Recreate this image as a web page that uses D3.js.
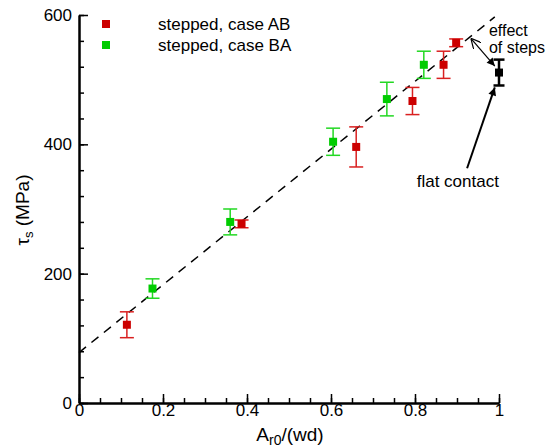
<!DOCTYPE html>
<html>
<head>
<meta charset="utf-8">
<script src="https://cdn.jsdelivr.net/npm/d3@7"></script>
<style>
  body { margin: 0; background: #fff; }
  text { font-family: "Liberation Sans", Arial, sans-serif; }
</style>
</head>
<body>
<script>
const width = 553;
const height = 448;

// case AB (red)
const abX = [0.114, 0.387, 0.66, 0.794, 0.868, 0.898];
const abY = [121, 277, 396, 467, 523, 557];
const abErr = [20, 6, 31, 21, 21, 6];

// case BA (green)
const baX = [0.175, 0.36, 0.605, 0.733, 0.821];
const baY = [177, 280, 404, 470, 523];
const baErr = [15, 20, 21, 26, 21];

// flat contact
const flatX = [1.0];
const flatY = [511];
const flatErr = [20];

// dashed fit line end points
const fitX = [0, 0.99];
const fitY = [78, 597];

const xMajor = [0, 0.2, 0.4, 0.6, 0.8, 1];
const xMinor = d3.range(0, 1.0001, 0.05);
const yMajor = [0, 200, 400, 600];
const yMinor = d3.range(0, 600.1, 40);

const legendLabels = ["stepped, case AB", "stepped, case BA"];
const red = "#cc0000", redBar = "#d92020";
const green = "#00cc00", greenBar = "#22d822";

const svg = d3.select("body").append("svg")
    .attr("width", width)
    .attr("height", height);

const x = d3.scaleLinear().domain([0, 1]).range([79, 499]);
const y = d3.scaleLinear().domain([0, 600]).range([403, 15]);

// axes (ticks pointing inward)
function styleAxis(g) {
    g.selectAll("text").attr("font-size", 17).attr("fill", "#000")
        .attr("font-family", "'Liberation Sans', Arial, sans-serif");
    g.selectAll("line").attr("stroke", "#000").attr("stroke-width", 1.5);
    g.select(".domain").attr("stroke", "#000").attr("stroke-width", 2);
}

svg.append("g").attr("transform", "translate(0,403)")
    .call(d3.axisBottom(x).tickValues(xMinor).tickSize(-5).tickSizeOuter(0).tickFormat(""))
    .call(styleAxis);
svg.append("g").attr("transform", "translate(0,403)")
    .call(d3.axisBottom(x).tickValues(xMajor).tickSize(-9).tickSizeOuter(0).tickPadding(1)
        .tickFormat(d => d === 0 ? "0" : d === 1 ? "1" : d3.format(".1f")(d)))
    .call(styleAxis);

svg.append("g").attr("transform", "translate(79,0)")
    .call(d3.axisLeft(y).tickValues(yMinor).tickSize(-5).tickSizeOuter(0).tickFormat(""))
    .call(styleAxis);
svg.append("g").attr("transform", "translate(79,0)")
    .call(d3.axisLeft(y).tickValues(yMajor).tickSize(-9).tickSizeOuter(0).tickPadding(7))
    .call(styleAxis);

// axis titles
const xt = svg.append("text")
    .attr("x", 290).attr("y", 441)
    .attr("text-anchor", "middle")
    .attr("font-size", 19);
xt.append("tspan").text("A");
xt.append("tspan").attr("font-size", 14).attr("dy", 4).text("r0");
xt.append("tspan").attr("dy", -4).text("/(wd)");

const yt = svg.append("text")
    .attr("transform", "translate(29,210) rotate(-90)")
    .attr("text-anchor", "middle")
    .attr("font-size", 19);
yt.append("tspan").text("τ");
yt.append("tspan").attr("font-size", 13).attr("dy", 4).text("s");
yt.append("tspan").attr("dy", -4).text(" (MPa)");

// dashed fit line
svg.append("line")
    .attr("x1", x(fitX[0])).attr("y1", y(fitY[0]))
    .attr("x2", x(fitX[1])).attr("y2", y(fitY[1]))
    .attr("stroke", "#000")
    .attr("stroke-width", 1.5)
    .attr("stroke-dasharray", "9,7");

function drawSeries(xs, ys, errs, fill, barColor, cap, sw, size) {
    const data = xs.map((d, i) => ({x: d, y: ys[i], e: errs[i]}));
    const g = svg.append("g");
    const bars = g.selectAll(".bar").data(data).enter().append("g")
        .attr("stroke", barColor).attr("stroke-width", sw);
    bars.append("line")
        .attr("x1", d => x(d.x)).attr("x2", d => x(d.x))
        .attr("y1", d => y(d.y - d.e)).attr("y2", d => y(d.y + d.e));
    bars.append("line")
        .attr("x1", d => x(d.x) - cap / 2).attr("x2", d => x(d.x) + cap / 2)
        .attr("y1", d => y(d.y + d.e)).attr("y2", d => y(d.y + d.e));
    bars.append("line")
        .attr("x1", d => x(d.x) - cap / 2).attr("x2", d => x(d.x) + cap / 2)
        .attr("y1", d => y(d.y - d.e)).attr("y2", d => y(d.y - d.e));
    g.selectAll(".pt").data(data).enter().append("rect")
        .attr("x", d => x(d.x) - size / 2)
        .attr("y", d => y(d.y) - size / 2)
        .attr("width", size).attr("height", size)
        .attr("fill", fill);
}

drawSeries(abX, abY, abErr, red, redBar, 14, 1.5, 8);
drawSeries(baX, baY, baErr, green, greenBar, 14, 1.5, 8);
drawSeries(flatX, flatY, flatErr, "#000", "#000", 11, 2.5, 8);

// legend
const legend = svg.append("g");
[red, green].forEach((c, i) => {
    const ly = 24 + i * 21;
    legend.append("rect")
        .attr("x", 102).attr("y", ly - 4)
        .attr("width", 8).attr("height", 8)
        .attr("fill", c);
    legend.append("text")
        .attr("x", 158).attr("y", ly)
        .attr("dy", "0.35em")
        .attr("font-size", 17)
        .text(legendLabels[i]);
});

// annotations
const defs = svg.append("defs");
defs.append("marker")
    .attr("id", "solidHead")
    .attr("viewBox", "0 0 10 10")
    .attr("refX", 10).attr("refY", 5)
    .attr("markerWidth", 14).attr("markerHeight", 8)
    .attr("markerUnits", "userSpaceOnUse")
    .attr("orient", "auto")
    .append("path").attr("d", "M0,0 L10,5 L0,10 Z").attr("fill", "#000");
defs.append("marker")
    .attr("id", "openHead")
    .attr("viewBox", "0 0 10 10")
    .attr("refX", 0).attr("refY", 5)
    .attr("markerWidth", 10).attr("markerHeight", 10)
    .attr("markerUnits", "userSpaceOnUse")
    .attr("orient", "auto")
    .append("path").attr("d", "M10,0 L0,5 L10,10")
    .attr("fill", "none").attr("stroke", "#000").attr("stroke-width", 1.2);

// effect of steps
svg.append("line")
    .attr("x1", x(0.933)).attr("y1", y(564))
    .attr("x2", x(0.99)).attr("y2", y(521))
    .attr("stroke", "#000").attr("stroke-width", 1.2)
    .attr("marker-start", "url(#openHead)")
    .attr("marker-end", "url(#solidHead)");
svg.append("text").attr("x", x(0.976)).attr("y", y(567))
    .attr("font-size", 16).text("effect");
svg.append("text").attr("x", x(0.976)).attr("y", y(541))
    .attr("font-size", 16).text("of steps");

// flat contact
svg.append("line")
    .attr("x1", x(0.924)).attr("y1", y(363))
    .attr("x2", x(0.99)).attr("y2", y(488))
    .attr("stroke", "#000").attr("stroke-width", 2)
    .attr("marker-end", "url(#solidHead)");
svg.append("text").attr("x", x(0.902)).attr("y", y(334))
    .attr("text-anchor", "middle")
    .attr("font-size", 17).text("flat contact");
</script>
</body>
</html>
